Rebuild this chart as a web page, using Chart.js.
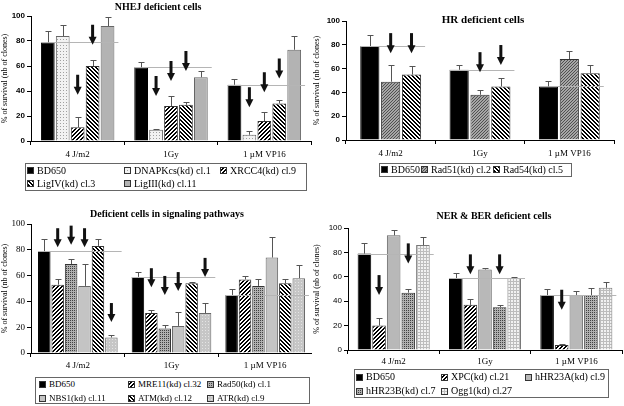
<!DOCTYPE html>
<html><head><meta charset="utf-8">
<script src="https://cdn.jsdelivr.net/npm/chart.js@4.4.1/dist/chart.umd.min.js"></script>
<style>
html,body{margin:0;padding:0;background:#fff;}
body{width:624px;height:406px;position:relative;overflow:hidden;font-family:"Liberation Serif",serif;}
canvas.pane{position:absolute;}
.legend{position:absolute;border:1px solid #666;box-sizing:border-box;color:#000;font-family:"Liberation Serif",serif;}
.li{position:absolute;display:flex;align-items:center;white-space:nowrap;}
.li canvas{margin-right:3px;display:block;}
</style></head>
<body>
<canvas id="c1" class="pane" width="312" height="165" style="left:0;top:0"></canvas>
<canvas id="c2" class="pane" width="312" height="165" style="left:312px;top:0"></canvas>
<canvas id="c3" class="pane" width="312" height="175" style="left:0;top:200px"></canvas>
<canvas id="c4" class="pane" width="312" height="170" style="left:312px;top:200px"></canvas>
<script>
// ---------------- DATA ----------------
const categories = ['4 J/m2', '1Gy', '1 \u00B5M VP16'];
const yTicks = [0, 20, 40, 60, 80, 100];
const yTitle = '% of survival (nb of clones)';
const titles = ['NHEJ deficient cells', 'HR deficient cells', 'Deficient cells in signaling pathways', 'NER & BER deficient cells'];

const bd650 = [79, 59, 45];
const bd650Err = [9, 4, 5];

// NHEJ panel
const dnapkcs = [84, 9, 5];
const dnapkcsErr = [9, 1, 3];
const dnapkcsArrow = [null, 36, 27];
const xrcc4 = [11, 28, 16];
const xrcc4Err = [8, 8, 7];
const xrcc4Arrow = [37, 48, 39];
const lig4 = [60, 29, 30];
const lig4Err = [5, 2, 3];
const lig4Arrow = [77, 56, 50];
const lig3 = [92, 51, 73];
const lig3Err = [7, 5, 11];

// HR panel
const rad51 = [49, 38, 68];
const rad51Err = [14, 4, 7];
const rad51Arrow = [73, 57, null];
const rad54 = [55, 45, 56];
const rad54Err = [7, 7, 7];
const rad54Arrow = [73, 63, null];

// Signaling panel
const mre11 = [53, 31, 57];
const mre11Err = [4, 2, 3];
const mre11Arrow = [82, 51, null];
const rad50 = [69, 19, 52];
const rad50Err = [4, 3, 5];
const rad50Arrow = [84, 45, null];
const nbs1 = [52, 21, 74];
const nbs1Err = [17, 11, 16];
const nbs1Arrow = [82, 48, null];
const atm = [83, 54, 54];
const atmErr = [5, 1, 3];
const atr = [12, 31, 58];
const atrErr = [2, 8, 10];
const atrArrow = [24, 59, null];

// NER & BER panel
const xpc = [20, 37, 4];
const xpcErr = [6, 5, 1];
const xpcArrow = [45, 62, 33];
const hhr23a = [94, 66, 45];
const hhr23aErr = [4, 1, 3];
const hhr23b = [47, 35, 45];
const hhr23bErr = [3, 2, 6];
const hhr23bArrow = [71, 62, null];
const ogg1 = [86, 59, 51];
const ogg1Err = [7, 1, 5];

// ---------------- PATTERNS ----------------
function pixPattern(size, bg, fg, fn) {
  const c = document.createElement('canvas');
  c.width = size; c.height = size;
  const x = c.getContext('2d');
  x.fillStyle = bg; x.fillRect(0, 0, size, size);
  x.fillStyle = fg;
  for (let i = 0; i < size; i++) for (let j = 0; j < size; j++) if (fn(i, j)) x.fillRect(i, j, 1, 1);
  return x.createPattern(c, 'repeat');
}
const P = {
  black: '#000000',
  dots: pixPattern(3, '#f2f2f2', '#a0a0a0', (i, j) => i === 0 && j === 0),
  fwd: pixPattern(4, '#ffffff', '#000000', (i, j) => ((i + j) % 4 === 3 || (i + j) % 4 === 0)),
  back: pixPattern(4, '#ffffff', '#000000', (i, j) => ((i - j + 8) % 4 === 0 || (i - j + 8) % 4 === 1)),
  fineDark: pixPattern(3, '#a6a6a6', '#505050', (i, j) => (i + j) % 3 === 0),
  cross: pixPattern(4, '#b0b0b0', '#404040', (i, j) => (i + j) % 2 === 0 && (i % 2 === 0)),
  atr: pixPattern(3, '#c6c6c6', '#e4e4e4', (i, j) => i === 1 && j === 1),
  grid: pixPattern(3, '#f2f2f2', '#bdbdbd', (i, j) => i === 0 || j === 0),
  lig3: '#b3b3b3',
  nbs1: '#c4c4c4',
  hhr23a: '#b8b8b8'
};

// ---------------- PLUGIN ----------------
const extras = {
  id: 'extras',
  afterDatasetsDraw(chart, args, opts) {
    const ctx = chart.ctx, ys = chart.scales.y;
    const dsets = chart.data.datasets;
    const m0 = chart.getDatasetMeta(0);
    const mL = chart.getDatasetMeta(dsets.length - 1);
    ctx.save();
    // reference lines at BD650 level
    ctx.strokeStyle = '#b5b5b5'; ctx.lineWidth = 1;
    m0.data.forEach((bar, i) => {
      const y = Math.round(ys.getPixelForValue(dsets[0].data[i])) + 0.5;
      const last = mL.data[i];
      ctx.beginPath();
      ctx.moveTo(bar.x - bar.width / 2, y);
      ctx.lineTo(last.x + last.width / 2 + opts.refExtend, y);
      ctx.stroke();
    });
    // error bars
    ctx.strokeStyle = '#555'; ctx.lineWidth = 1;
    dsets.forEach((ds, di) => {
      const meta = chart.getDatasetMeta(di);
      meta.data.forEach((bar, i) => {
        const e = ds.err ? ds.err[i] : null;
        if (!e) return;
        const yT = Math.round(ys.getPixelForValue(ds.data[i] + e)) + 0.5;
        const x = Math.round(bar.x) + 0.5;
        ctx.beginPath();
        ctx.moveTo(x, bar.y); ctx.lineTo(x, yT);
        ctx.moveTo(x - 3, yT); ctx.lineTo(x + 3, yT);
        ctx.stroke();
      });
    });
    // arrows
    ctx.fillStyle = '#111';
    dsets.forEach((ds, di) => {
      if (!ds.arrow) return;
      const meta = chart.getDatasetMeta(di);
      meta.data.forEach((bar, i) => {
        const a = ds.arrow[i];
        if (a === null || a === undefined) return;
        const tip = ys.getPixelForValue(a);
        const x = bar.x;
        ctx.fillRect(x - 1.5, tip - opts.arrowLen, 3, opts.arrowLen - 7);
        ctx.beginPath();
        ctx.moveTo(x - 4, tip - 8); ctx.lineTo(x + 4, tip - 8); ctx.lineTo(x, tip);
        ctx.closePath(); ctx.fill();
      });
    });
    // panel title
    ctx.fillStyle = '#000';
    ctx.font = opts.titleFont;
    ctx.textAlign = 'center'; ctx.textBaseline = 'middle';
    ctx.fillText(opts.title, opts.titleX, opts.titleY);
    ctx.restore();
  }
};

// ---------------- CHART BUILDER ----------------
function mk(label, data, err, arrow, fill, border) {
  return { label, data, err, arrow, backgroundColor: fill, borderColor: border || '#333', borderWidth: 1 };
}
function build(id, datasets, cfg) {
  new Chart(document.getElementById(id), {
    type: 'bar',
    data: { labels: categories, datasets },
    options: {
      responsive: false, maintainAspectRatio: false, animation: false,
      devicePixelRatio: 1,
      categoryPercentage: cfg.catPct, barPercentage: cfg.barPct,
      layout: { padding: cfg.pad },
      plugins: {
        legend: { display: false }, tooltip: { enabled: false },
        extras: { title: cfg.title, titleX: cfg.titleX, titleY: cfg.titleY, titleFont: cfg.titleFont,
                  refExtend: 4, arrowLen: cfg.arrowLen }
      },
      scales: {
        x: {
          grid: { display: true, drawOnChartArea: false, drawTicks: true, tickLength: 4, color: '#000', offset: true },
          border: { display: true, color: '#000' },
          ticks: { color: '#000', font: { family: 'Liberation Serif', size: cfg.xFont }, padding: cfg.xPad, maxRotation: 0 },
          afterFit: s => { s.height = cfg.xH; }
        },
        y: {
          min: 0, max: 100,
          afterBuildTicks: s => { s.ticks = yTicks.map(v => ({ value: v })); },
          grid: { display: true, drawOnChartArea: false, drawTicks: true, tickLength: 4, color: '#000' },
          border: { display: true, color: '#000' },
          ticks: { color: '#000', font: cfg.yTickFont, padding: 2 },
          title: { display: true, text: yTitle, color: '#000', font: { family: 'Liberation Serif', size: 8 }, padding: { top: 0, bottom: 0 } },
          afterFit: s => { s.width = cfg.yW; }
        }
      }
    },
    plugins: [extras]
  });
}

build('c1', [
  mk('BD650', bd650, bd650Err, null, P.black, '#000'),
  mk('DNAPKcs(kd) cl.1', dnapkcs, dnapkcsErr, dnapkcsArrow, P.dots, '#666'),
  mk('XRCC4(kd) cl.9', xrcc4, xrcc4Err, xrcc4Arrow, P.fwd),
  mk('LigIV(kd) cl.3', lig4, lig4Err, lig4Arrow, P.back),
  mk('LigIII(kd) cl.11', lig3, lig3Err, null, P.lig3, '#666')
], { catPct: 0.8, barPct: 0.92, pad: { top: 16, right: 1, left: 0, bottom: 0 }, yW: 31, xH: 24, xPad: 4, xFont: 9,
     yTickFont: { family: 'Liberation Sans', size: 8, weight: 'bold' },
     title: titles[0], titleX: 158, titleY: 7, titleFont: 'bold 10px "Liberation Serif"', arrowLen: 20 });

build('c2', [
  mk('BD650', bd650, bd650Err, null, P.black, '#000'),
  mk('Rad51(kd) cl.2', rad51, rad51Err, rad51Arrow, P.fineDark),
  mk('Rad54(kd) cl.5', rad54, rad54Err, rad54Arrow, P.back)
], { catPct: 0.7, barPct: 0.92, pad: { top: 21, right: 10, left: 0, bottom: 0 }, yW: 34, xH: 25, xPad: 4, xFont: 9,
     yTickFont: { family: 'Liberation Sans', size: 8, weight: 'bold' },
     title: titles[1], titleX: 171, titleY: 20, titleFont: 'bold 11px "Liberation Serif"', arrowLen: 20 });

build('c3', [
  mk('BD650', bd650, bd650Err, null, P.black, '#000'),
  mk('MRE11(kd) cl.32', mre11, mre11Err, mre11Arrow, P.fwd),
  mk('Rad50(kd) cl.1', rad50, rad50Err, rad50Arrow, P.cross),
  mk('NBS1(kd) cl.11', nbs1, nbs1Err, nbs1Arrow, P.nbs1, '#666'),
  mk('ATM(kd) cl.12', atm, atmErr, null, P.back),
  mk('ATR(kd) cl.9', atr, atrErr, atrArrow, P.atr, '#666')
], { catPct: 0.86, barPct: 0.93, pad: { top: 24, right: 0, left: 0, bottom: 0 }, yW: 31, xH: 22, xPad: 3, xFont: 9,
     yTickFont: { family: 'Liberation Serif', size: 9 },
     title: titles[2], titleX: 167, titleY: 14, titleFont: 'bold 10px "Liberation Serif"', arrowLen: 19 });

build('c4', [
  mk('BD650', bd650, bd650Err, null, P.black, '#000'),
  mk('XPC(kd) cl.21', xpc, xpcErr, xpcArrow, P.fwd),
  mk('hHR23A(kd) cl.9', hhr23a, hhr23aErr, null, P.hhr23a, '#666'),
  mk('hHR23B(kd) cl.7', hhr23b, hhr23bErr, hhr23bArrow, P.cross),
  mk('Ogg1(kd) cl.27', ogg1, ogg1Err, null, P.grid, '#777')
], { catPct: 0.8, barPct: 0.93, pad: { top: 28, right: 2, left: 0, bottom: 0 }, yW: 36, xH: 20, xPad: 2, xFont: 9,
     yTickFont: { family: 'Liberation Sans', size: 8 },
     title: titles[3], titleX: 182, titleY: 16, titleFont: 'bold 10px "Liberation Serif"', arrowLen: 20 });

// ---------------- HTML LEGENDS ----------------
function legend(box, cols, rowTop, rowH, fontSize, items) {
  const d = document.createElement('div');
  d.className = 'legend';
  Object.assign(d.style, { left: box[0] + 'px', top: box[1] + 'px', width: box[2] + 'px', height: box[3] + 'px', fontSize: fontSize + 'px' });
  items.forEach((it, k) => {
    const r = Math.floor(k / cols.length), c = k % cols.length;
    const li = document.createElement('div');
    li.className = 'li';
    Object.assign(li.style, { left: (cols[c] - 1) + 'px', top: (rowTop + r * rowH - 1) + 'px', height: rowH + 'px', lineHeight: rowH + 'px' });
    const sw = document.createElement('canvas');
    sw.width = 7; sw.height = 7;
    const sx = sw.getContext('2d');
    sx.fillStyle = it[1]; sx.fillRect(0, 0, 7, 7);
    sx.strokeStyle = '#333'; sx.strokeRect(0.5, 0.5, 6, 6);
    const sp = document.createElement('span');
    sp.textContent = it[0];
    li.appendChild(sw); li.appendChild(sp);
    d.appendChild(li);
  });
  document.body.appendChild(d);
}
legend([25, 163, 282, 28], [2, 99, 195], 1, 13, 10, [
  ['BD650', P.black], ['DNAPKcs(kd) cl.1', P.dots], ['XRCC4(kd) cl.9', P.fwd], ['LigIV(kd) cl.3', P.back], ['LigIII(kd) cl.11', P.lig3]
]);
legend([379, 163, 193, 14], [2, 42, 114], 0, 13, 10, [
  ['BD650', P.black], ['Rad51(kd) cl.2', P.fineDark], ['Rad54(kd) cl.5', P.back]
]);
legend([35, 377, 275, 27], [4, 93, 172], 0, 14, 9, [
  ['BD650', P.black], ['MRE11(kd) cl.32', P.fwd], ['Rad50(kd) cl.1', P.cross], ['NBS1(kd) cl.11', P.nbs1], ['ATM(kd) cl.12', P.back], ['ATR(kd) cl.9', P.atr]
]);
legend([354, 369, 255, 29], [2, 87, 171], 1, 14, 10, [
  ['BD650', P.black], ['XPC(kd) cl.21', P.fwd], ['hHR23A(kd) cl.9', P.hhr23a], ['hHR23B(kd) cl.7', P.cross], ['Ogg1(kd) cl.27', P.grid]
]);
</script>
</body></html>
